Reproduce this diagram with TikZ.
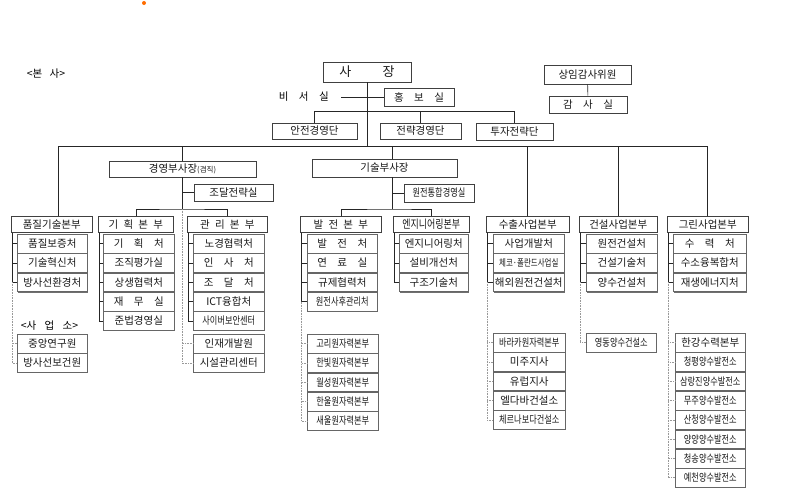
\documentclass[tikz,border=0pt]{standalone}
\usepackage{fontspec}
\setmainfont{Noto Sans CJK KR}
\newfontfamily\kcond[FakeStretch=0.78]{Noto Sans CJK KR}
\usetikzlibrary{positioning, shadows}
\newcommand{\kgap}{\hspace{1em}}
\newcommand{\hgap}{\hspace{0.5em}}
\newcommand{\ksize}{\fontsize{10.5}{12}\selectfont}

\begin{document}
\begin{tikzpicture}[x=1pt, y=-1pt,
      box/.style={
         draw=black!75,
         fill=white,
         line width=0.6pt,
         inner sep=0pt,
         text=black!90,
         drop shadow={shadow xshift=1pt, shadow yshift=-1pt, fill=black!70, opacity=0.8},
         font=\ksize},
      topbox/.style={box, minimum height=17pt, minimum width=#1},
      headbox/.style={box, minimum height=16pt, minimum width=#1, anchor=north west},
      subbox/.style={box, draw=black!60, minimum height=18.7pt, minimum width=#1},
      narrow/.style={font=\kcond\fontsize{10.5}{12}\selectfont},
      link/.style={draw=black!85, line width=0.6pt},
      dotlink/.style={draw=black!40, densely dotted, line width=0.6pt},
      node distance=0pt
      ]
      \useasboundingbox (0,0) rectangle (785,493);
      \fill[orange!85!red] (144,3) circle (2pt);

      % head office
      \node[font=\ksize] (bonsa) at (46,74) {<본\hspace{0.7em}사>};
      \node[topbox=88pt, minimum height=20pt, font=\fontsize{13}{14}\selectfont] (ceo) at (367,72) {사\hspace{2.4em}장};
      \node[anchor=east, inner xsep=12pt, font=\ksize] (secr) at (341,97) {비\kgap 서\kgap 실};
      \node[topbox=70pt, minimum height=18pt] (pr) at (419,97) {홍\kgap 보\kgap 실};
      \node[topbox=85pt, minimum height=16pt] (safety) at (314.5,131) {안전경영단};
      \node[topbox=81pt, minimum height=16pt] (strategy) at (420.5,131) {전략경영단};
      \node[topbox=77pt] (invest) at (514.5,131.5) {투자전략단};
      \node[topbox=87pt, minimum height=19pt] (auditor) at (587.5,74.5) {상임감사위원};
      \node[topbox=78pt] (audit) at (588,104.5) {감\kgap 사\kgap 실};

      % vice presidents
      \node[topbox=147pt, minimum height=16pt] (mgmtvp) at (182.5,169) {경영부사장{\fontsize{7.5}{8}\selectfont(겸직)}};
      \node[topbox=79pt] (procure) at (233.5,192.5) {조달전략실};
      \node[topbox=145pt, minimum height=18pt] (techvp) at (384.5,168) {기술부사장};
      \node[topbox=70pt, minimum height=18pt, narrow] (nuclear) at (439,193) {원전통합경영실};

      % divisions
      \node[headbox=81pt] (pumjil) at (11,216) {품질기술본부};
      \node[headbox=75pt] (gihoek) at (98,216) {기\hgap 획\hgap 본\hgap 부};
      \node[headbox=80pt] (gwalli) at (187,216) {관\hgap 리\hgap 본\hgap 부};
      \node[headbox=81pt] (baljeon) at (300,216) {발\hgap 전\hgap 본\hgap 부};
      \node[headbox=76pt, font=\kcond\fontsize{11.5}{12}\selectfont] (eng) at (393,216) {엔지니어링본부};
      \node[headbox=83pt] (suchul) at (486,216) {수출사업본부};
      \node[headbox=78pt] (geonseol) at (579,216) {건설사업본부};
      \node[headbox=81pt] (green) at (667,216) {그린사업본부};

      % offices
      \node[subbox=70pt, anchor=north west] (pumjil1) at (17,234) {품질보증처};
      \node[subbox=70pt, below=of pumjil1] (pumjil2) {기술혁신처};
      \node[subbox=70pt, below=of pumjil2] (pumjil3) {방사선환경처};

      \node[subbox=71pt, anchor=north west] (gihoek1) at (103,234) {기\kgap 획\kgap 처};
      \node[subbox=71pt, below=of gihoek1] (gihoek2) {조직평가실};
      \node[subbox=71pt, below=of gihoek2] (gihoek3) {상생협력처};
      \node[subbox=71pt, below=of gihoek3] (gihoek4) {재\kgap 무\kgap 실};
      \node[subbox=71pt, below=of gihoek4] (gihoek5) {준법경영실};

      \node[subbox=71pt, anchor=north west] (gwalli1) at (193,234) {노경협력처};
      \node[subbox=71pt, below=of gwalli1] (gwalli2) {인\kgap 사\kgap 처};
      \node[subbox=71pt, below=of gwalli2] (gwalli3) {조\kgap 달\kgap 처};
      \node[subbox=71pt, below=of gwalli3] (gwalli4) {ICT융합처};
      \node[subbox=71pt, below=of gwalli4, narrow] (gwalli5) {사이버보안센터};

      \node[subbox=70pt, anchor=north west] (baljeon1) at (307,234) {발\kgap 전\kgap 처};
      \node[subbox=70pt, below=of baljeon1] (baljeon2) {연\kgap 료\kgap 실};
      \node[subbox=70pt, below=of baljeon2] (baljeon3) {규제협력처};
      \node[subbox=70pt, below=of baljeon3, narrow] (baljeon4) {원전사후관리처};

      \node[subbox=69pt, anchor=north west] (eng1) at (399,234) {엔지니어링처};
      \node[subbox=69pt, below=of eng1] (eng2) {설비개선처};
      \node[subbox=69pt, below=of eng2] (eng3) {구조기술처};

      \node[subbox=71pt, anchor=north west] (suchul1) at (493,234) {사업개발처};
      \node[subbox=71pt, below=of suchul1, font=\kcond\fontsize{9.6}{12}\selectfont] (suchul2) {체코·폴란드사업실};
      \node[subbox=71pt, below=of suchul2] (suchul3) {해외원전건설처};

      \node[subbox=71pt, anchor=north west] (geonseol1) at (586,234) {원전건설처};
      \node[subbox=71pt, below=of geonseol1] (geonseol2) {건설기술처};
      \node[subbox=71pt, below=of geonseol2] (geonseol3) {양수건설처};

      \node[subbox=73pt, anchor=north west] (green1) at (673,234) {수\kgap 력\kgap 처};
      \node[subbox=73pt, below=of green1] (green2) {수소융복합처};
      \node[subbox=73pt, below=of green2] (green3) {재생에너지처};

      % sites
      \node[font=\ksize] (saeopso) at (49.5,326) {<사\hspace{0.8em}업\hspace{0.8em}소>};
      \node[subbox=70pt, anchor=north west] (pumjil-b1) at (17,334) {중앙연구원};
      \node[subbox=70pt, below=of pumjil-b1] (pumjil-b2) {방사선보건원};

      \node[subbox=71pt, anchor=north west] (gwalli-b1) at (193,334) {인재개발원};
      \node[subbox=71pt, below=of gwalli-b1] (gwalli-b2) {시설관리센터};

      \node[subbox=71pt, anchor=north west, narrow] (baljeon-b1) at (307,334) {고리원자력본부};
      \node[subbox=71pt, below=of baljeon-b1, narrow] (baljeon-b2) {한빛원자력본부};
      \node[subbox=71pt, below=of baljeon-b2, narrow] (baljeon-b3) {월성원자력본부};
      \node[subbox=71pt, below=of baljeon-b3, narrow] (baljeon-b4) {한울원자력본부};
      \node[subbox=71pt, below=of baljeon-b4, narrow] (baljeon-b5) {새울원자력본부};

      \node[subbox=72pt, anchor=north west, narrow] (suchul-b1) at (493,333) {바라카원자력본부};
      \node[subbox=72pt, below=of suchul-b1] (suchul-b2) {미주지사};
      \node[subbox=72pt, below=of suchul-b2] (suchul-b3) {유럽지사};
      \node[subbox=72pt, below=of suchul-b3] (suchul-b4) {엘다바건설소};
      \node[subbox=72pt, below=of suchul-b4, narrow] (suchul-b5) {체르나보다건설소};

      \node[subbox=70pt, anchor=north west, narrow] (geonseol-b1) at (586,333) {영동양수건설소};

      \node[subbox=70pt, anchor=north west] (green-b1) at (675,333) {한강수력본부};
      \node[subbox=70pt, below=of green-b1, narrow] (green-b2) {청평양수발전소};
      \node[subbox=70pt, below=of green-b2, narrow] (green-b3) {삼랑진양수발전소};
      \node[subbox=70pt, below=of green-b3, narrow] (green-b4) {무주양수발전소};
      \node[subbox=70pt, below=of green-b4, narrow] (green-b5) {산청양수발전소};
      \node[subbox=70pt, below=of green-b5, narrow] (green-b6) {양양양수발전소};
      \node[subbox=70pt, below=of green-b6, narrow] (green-b7) {청송양수발전소};
      \node[subbox=70pt, below=of green-b7, narrow] (green-b8) {예천양수발전소};

      % top lines
      \foreach \n/\x in {t1/58, t2/182, t4/392, t5/527.5, t6/618, t7/707.5}
        \coordinate (\n) at (\x,146);
      \coordinate (sj) at (0,111);
      \draw[link] (t1) -- (t7);
      \draw[link] (ceo.south) -- (ceo.south |- t1);
      \draw[link] (secr.east) -- (pr.west);
      \draw[link] (safety.north) -- (safety.north |- sj) -- (invest.north |- sj) -- (invest.north);
      \draw[link] (strategy.north) -- (strategy.north |- sj);
      \draw[link] (auditor) -- (audit);
      \foreach \t/\n in {t1/pumjil, t2/mgmtvp, t4/techvp, t5/suchul, t6/geonseol, t7/green}
        \draw[link] (\t) -- (\t |- \n.north);

      % vice president trunks
      \coordinate (mj) at (182,209);
      \coordinate (tj) at (392,209);
      \draw[link] (mj |- mgmtvp.south) -- (mj);
      \draw[link] (mj |- procure.west) -- (procure.west);
      \draw[link] (gihoek.north) |- (mj) -| (gwalli.north);
      \draw[link] (tj |- techvp.south) -- (tj);
      \draw[link] (tj |- nuclear.west) -- (nuclear.west);
      \draw[link] (baljeon.north) |- (tj) -| (eng.north);

      % brackets under each division
      \foreach \h/\n in {pumjil/3, gihoek/5, gwalli/5, baljeon/4, eng/3, suchul/3, geonseol/3, green/3}{
        \coordinate (\h-t) at ([xshift=1pt]\h.south west);
        \foreach \k in {1,...,\n}
          \draw[link] (\h-t) |- (\h\k.west);
      }

      % dotted lines to the sites
      \foreach \h/\l/\n in {pumjil/3/2, baljeon/4/5, suchul/3/5, geonseol/3/1, green/3/8}
        \foreach \k in {1,...,\n}
          \draw[dotlink] (\h-t |- \h\l.west) |- (\h-b\k.west);
      \foreach \k in {1,2}
        \draw[dotlink] (mj) |- (gwalli-b\k.west);
\end{tikzpicture}
\end{document}
